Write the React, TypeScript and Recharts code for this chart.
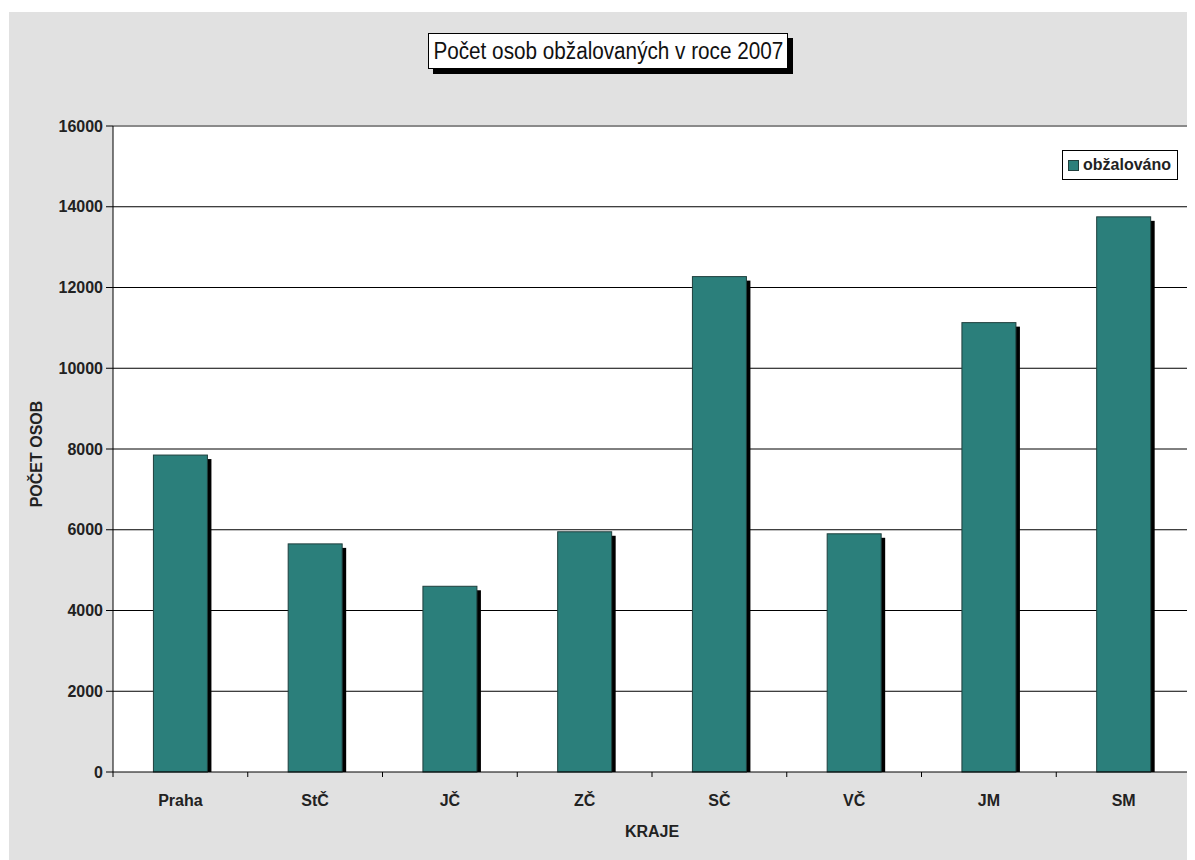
import React from 'react';
import { BarChart, Bar, XAxis, YAxis, CartesianGrid, ReferenceLine } from 'recharts';

const categories = ['Praha', 'StČ', 'JČ', 'ZČ', 'SČ', 'VČ', 'JM', 'SM'];
const obzalovano = [7850, 5650, 4600, 5950, 12270, 5900, 11130, 13750];
const yTicks = [0, 2000, 4000, 6000, 8000, 10000, 12000, 14000, 16000];
const gridValues = [2000, 4000, 6000, 8000, 10000, 12000, 14000];

const data = categories.map((c, i) => ({ kraj: c, obzalovano: obzalovano[i] }));

const FONT = "'Liberation Sans Narrow', 'Arial Narrow', 'Liberation Sans', Arial, sans-serif";
const TEAL = '#2b7f7b';

const CHART_W = 1186;
const CHART_H = 848;
const MARGIN = { top: 114, right: 4, bottom: 8, left: 34 };
const YAXIS_W = 70;
const PLOT_W = CHART_W - MARGIN.left - MARGIN.right - YAXIS_W;
const HALF_BAND = PLOT_W / categories.length / 2;

const ShadowBar = (props: any) => {
  const { x, y, width, height } = props;
  if (!height || height <= 0) return null;
  return (
    <g>
      <rect x={x + 4} y={y + 4} width={width} height={Math.max(0, height - 4)} fill="#000" />
      <rect x={x} y={y} width={width} height={height} fill={TEAL} stroke="#1f3f3d" strokeWidth={1} />
    </g>
  );
};

const CatTick = (props: any) => {
  const { x, y, payload, index } = props;
  const off = payload && typeof payload.offset === 'number' && payload.offset > 0 ? payload.offset : HALF_BAND;
  const axisY = y - 8;
  return (
    <g>
      <line x1={x - off} y1={axisY} x2={x - off} y2={axisY + 5} stroke="#000" strokeWidth={1} />
      {index === categories.length - 1 && (
        <line x1={x + off} y1={axisY} x2={x + off} y2={axisY + 5} stroke="#000" strokeWidth={1} />
      )}
      <text x={x} y={axisY + 34} textAnchor="middle" fontFamily={FONT} fontWeight="bold" fontSize={16} fill="#222">
        {payload.value}
      </text>
    </g>
  );
};

export default function App() {
  return (
    <div style={{ position: 'relative', width: 1187, height: 852, background: '#fff' }}>
      <div
        style={{
          position: 'absolute',
          left: 1,
          top: 4,
          width: CHART_W,
          height: CHART_H,
          background: '#e1e1e1',
        }}
      >
        <BarChart width={CHART_W} height={CHART_H} data={data} margin={MARGIN} barCategoryGap="30%">
          <CartesianGrid
            horizontal
            vertical={false}
            horizontalValues={gridValues}
            stroke="#000"
            strokeWidth={1}
            fill="#fff"
          />
          <XAxis
            dataKey="kraj"
            height={80}
            tickLine={false}
            axisLine={{ stroke: '#000' }}
            tick={<CatTick />}
            interval={0}
          />
          <YAxis
            width={YAXIS_W}
            domain={[0, 16000]}
            ticks={yTicks}
            interval={0}
            tickSize={7}
            tickMargin={3}
            tickLine={{ stroke: '#000' }}
            axisLine={{ stroke: '#000' }}
            tick={{ fontFamily: FONT, fontWeight: 'bold', fontSize: 16, fill: '#222' }}
          />
          <YAxis
            yAxisId="r"
            orientation="right"
            width={0}
            domain={[0, 16000]}
            tick={false}
            tickLine={false}
            axisLine={{ stroke: '#c8c8c8' }}
          />
          <ReferenceLine y={16000} stroke="#8a8a8a" strokeWidth={2} />
          <Bar dataKey="obzalovano" name="obžalováno" fill={TEAL} shape={<ShadowBar />} isAnimationActive={false} />
        </BarChart>
        <div
          style={{
            position: 'absolute',
            left: 1053,
            top: 138,
            width: 116,
            height: 30,
            boxSizing: 'border-box',
            border: '1px solid #000',
            background: '#fff',
            padding: '0 4px 0 5px',
            display: 'flex',
            alignItems: 'center',
            fontFamily: FONT,
            fontWeight: 'bold',
            fontSize: 16,
            color: '#222',
            whiteSpace: 'nowrap',
          }}
        >
          <span
            style={{
              display: 'inline-block',
              width: 9,
              height: 9,
              background: TEAL,
              border: '1px solid #1f3f3d',
              marginRight: 4,
            }}
          />
          obžalováno
        </div>
        <div
          style={{
            position: 'absolute',
            left: 419,
            top: 21,
            width: 360,
            height: 36,
            boxSizing: 'border-box',
            border: '1px solid #000',
            background: '#fff',
            boxShadow: '5px 5px 0 #000',
            display: 'flex',
            alignItems: 'center',
            justifyContent: 'center',
            fontFamily: FONT,
            fontSize: 23,
            color: '#111',
            whiteSpace: 'nowrap',
            overflow: 'visible',
          }}
        >
          <span style={{ display: 'inline-block', transform: 'scaleX(0.9)' }}>Počet osob obžalovaných v roce 2007</span>
        </div>
        <div
          style={{
            position: 'absolute',
            left: 28,
            top: 442,
            transform: 'translate(-50%, -50%) rotate(-90deg)',
            fontFamily: FONT,
            fontWeight: 'bold',
            fontSize: 16,
            color: '#222',
            whiteSpace: 'nowrap',
          }}
        >
          POČET OSOB
        </div>
        <div
          style={{
            position: 'absolute',
            left: 643,
            top: 820,
            transform: 'translate(-50%, -50%)',
            fontFamily: FONT,
            fontWeight: 'bold',
            fontSize: 16,
            color: '#222',
            whiteSpace: 'nowrap',
          }}
        >
          KRAJE
        </div>
      </div>
    </div>
  );
}
